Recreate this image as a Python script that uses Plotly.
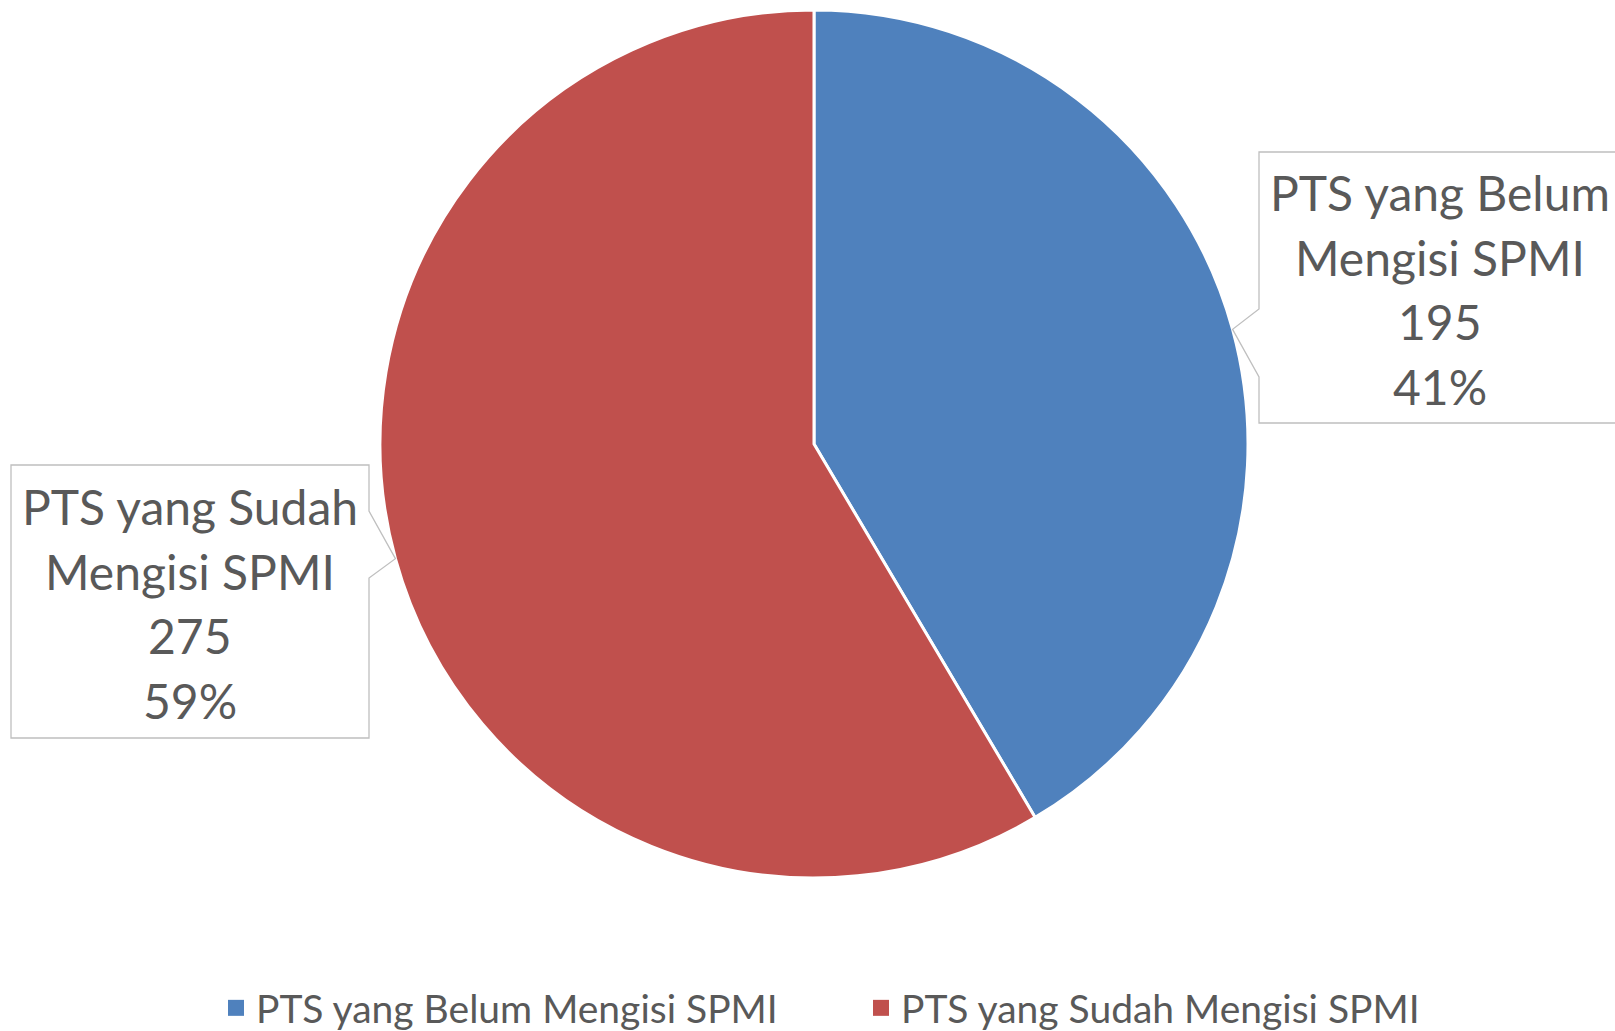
import math
import plotly.graph_objects as go

# ---- data ----
categories = ["PTS yang Belum Mengisi SPMI", "PTS yang Sudah Mengisi SPMI"]
label_lines = [["PTS yang Belum", "Mengisi SPMI"], ["PTS yang Sudah", "Mengisi SPMI"]]
values = [195, 275]
colors = ["#4F81BD", "#C0504D"]

W, H = 1615, 1031
FONT = "Lato"
TXT = "#595959"

# pie geometry (pixels)
cx, cy, R = 814, 444, 434
dom_x = [(cx - R) / W, (cx + R) / W]
dom_y = [1 - (cy + R) / H, 1 - (cy - R) / H]

def px(x):
    return x / W

def py(y):
    return 1 - y / H

fig = go.Figure()
fig.add_trace(go.Pie(
    labels=categories,
    values=values,
    sort=False,
    direction="clockwise",
    rotation=0,
    marker=dict(colors=colors, line=dict(color="white", width=3)),
    textinfo="none",
    hoverinfo="label+value+percent",
    domain=dict(x=dom_x, y=dom_y),
    showlegend=False,
))

# legend entries (square markers)
for name, c in zip(categories, colors):
    fig.add_trace(go.Scatter(
        x=[None], y=[None], mode="markers", name=name,
        marker=dict(symbol="square", size=16, color=c),
        showlegend=True, hoverinfo="skip",
    ))

total = sum(values)
pcts = [round(v / total * 100) for v in values]

# label box layouts (pixels)
boxes = [
    dict(l=1259, r=1621, t=152, b=423, side="left", n1=309, n2=377),
    dict(l=11, r=369, t=465, b=738, side="right", n1=511, n2=578),
]
LINE_H = 64.7

shapes = []
annotations = []
start = 0.0
for i, v in enumerate(values):
    frac = v / total
    mid = (start + frac / 2) * 2 * math.pi
    start += frac
    tx = cx + R * math.sin(mid)
    ty = cy - R * math.cos(mid)
    b = boxes[i]
    if b["side"] == "left":
        pts = [(b["r"], b["t"]), (b["l"], b["t"]), (b["l"], b["n1"]), (tx, ty),
               (b["l"], b["n2"]), (b["l"], b["b"]), (b["r"], b["b"])]
    else:
        pts = [(b["l"], b["t"]), (b["r"], b["t"]), (b["r"], b["n1"]), (tx, ty),
               (b["r"], b["n2"]), (b["r"], b["b"]), (b["l"], b["b"])]
    path = "M " + " L ".join(f"{px(x):.5f},{py(y):.5f}" for x, y in pts) + " Z"
    shapes.append(dict(type="path", path=path, xref="paper", yref="paper",
                       fillcolor="white", line=dict(color="#BFBFBF", width=1.3)))
    lines = label_lines[i] + [str(v), f"{pcts[i]}%"]
    xc = (b["l"] + b["r"]) / 2
    yc = (b["t"] + b["b"]) / 2 + 2
    n = len(lines)
    for k, line in enumerate(lines):
        yk = yc + (k - (n - 1) / 2) * LINE_H
        annotations.append(dict(
            text=line, x=px(xc), y=py(yk),
            xref="paper", yref="paper", xanchor="center", yanchor="middle",
            showarrow=False, align="center",
            font=dict(family=FONT, size=48, color=TXT),
        ))

fig.update_layout(
    width=W, height=H,
    margin=dict(l=0, r=0, t=0, b=0, autoexpand=False),
    paper_bgcolor="white",
    plot_bgcolor="white",
    xaxis=dict(visible=False),
    yaxis=dict(visible=False),
    shapes=shapes,
    annotations=annotations,
    showlegend=True,
    legend=dict(
        orientation="h", x=px(216), xanchor="left", y=py(1008), yanchor="middle",
        font=dict(family=FONT, size=39, color=TXT),
        itemwidth=30, traceorder="normal",
        entrywidth=600, entrywidthmode="pixels",
    ),
)

fig.write_html(
    "out.html",
    config={"displayModeBar": False},
    post_script="document.body.style.margin='0';document.body.style.padding='0';document.body.style.overflow='hidden';",
)
